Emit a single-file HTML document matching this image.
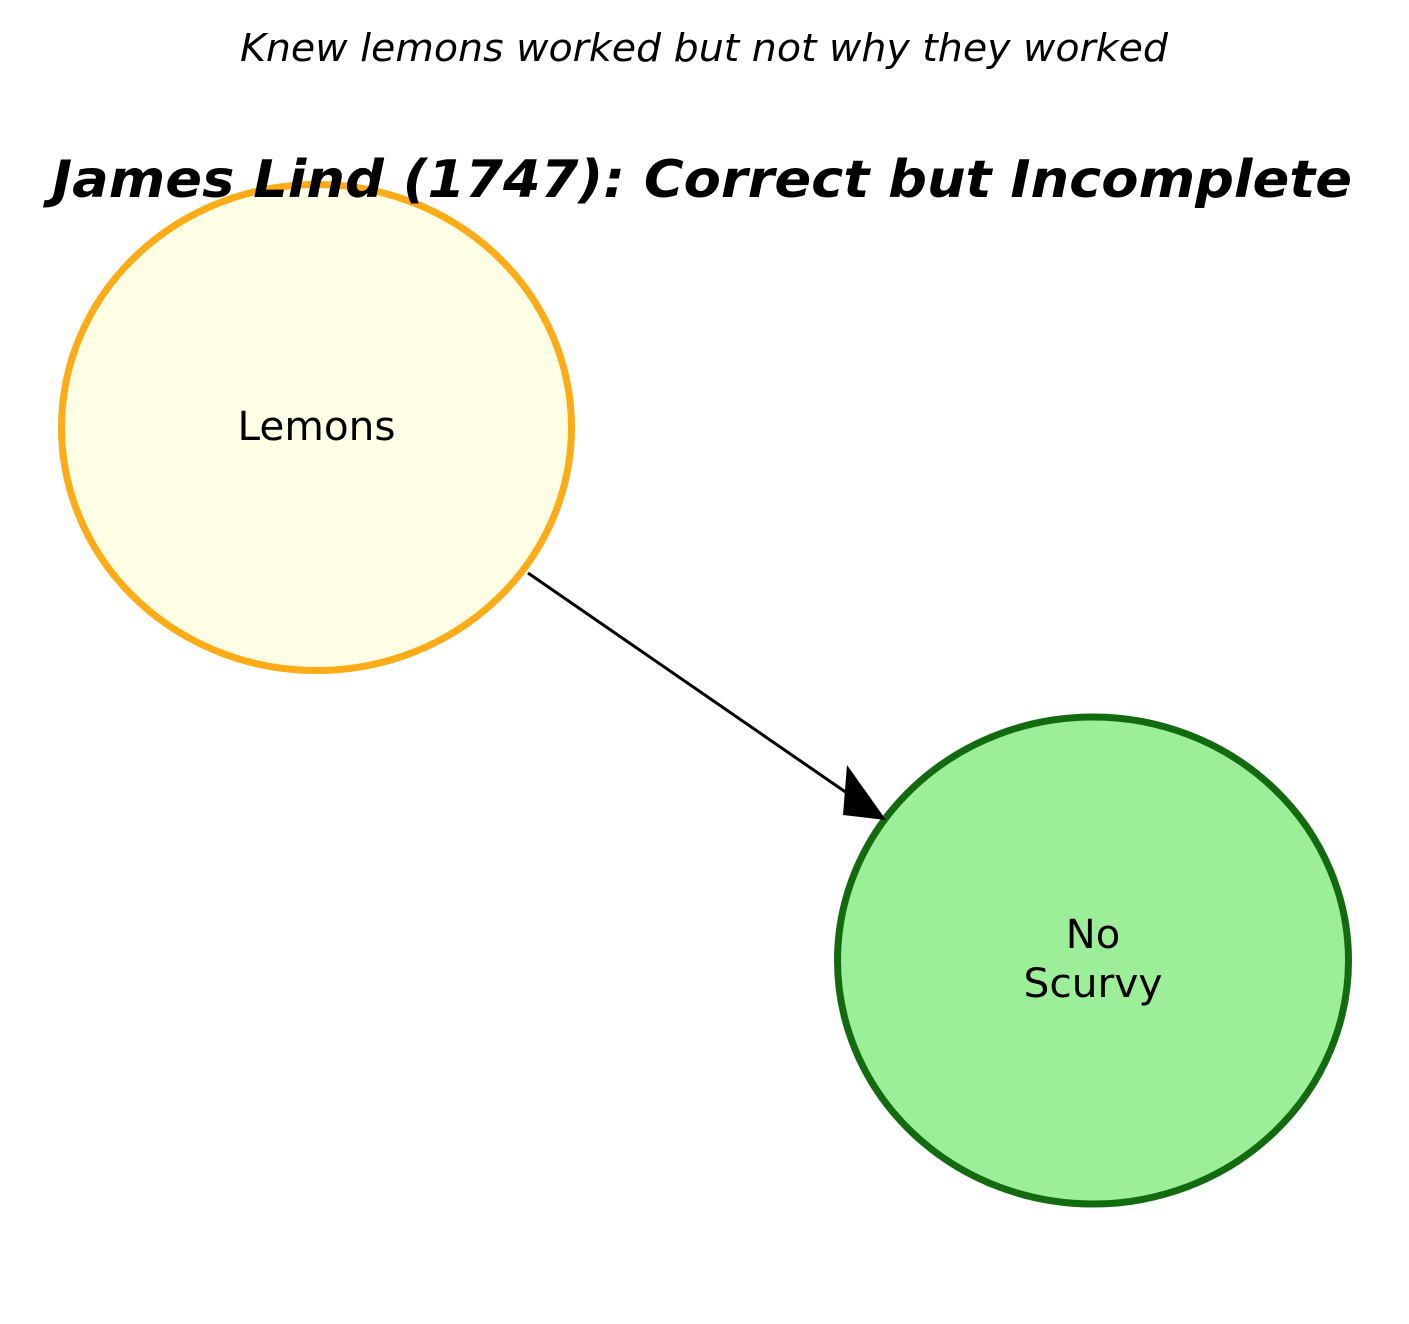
<!DOCTYPE html>
<html><head><meta charset="utf-8"><style>html,body{margin:0;padding:0;background:#fff}svg{display:block}</style></head>
<body>
<svg width="1409" height="1324" viewBox="0 0 1409 1324" xmlns="http://www.w3.org/2000/svg" font-family="DejaVu Sans, Liberation Sans, sans-serif">
<ellipse cx="316.5" cy="427.5" rx="255" ry="243" fill="#ffffe6" stroke="#fdab17" stroke-width="7"/>
<ellipse cx="1093" cy="960.5" rx="255.5" ry="243.5" fill="#9cee98" stroke="#136b10" stroke-width="7"/>
<line x1="528" y1="573" x2="860" y2="802" stroke="#000" stroke-width="3"/>
<polygon points="847,765 843,815 886,820" fill="#000"/>
<text x="704" y="61" text-anchor="middle" font-size="38" font-style="italic" textLength="928" lengthAdjust="spacingAndGlyphs">Knew lemons worked but not why they worked</text>
<text x="702" y="197" text-anchor="middle" font-size="52" font-weight="bold" font-style="italic" textLength="1300" lengthAdjust="spacingAndGlyphs">James Lind (1747): Correct but Incomplete</text>
<text x="316.5" y="440" text-anchor="middle" font-size="40" textLength="158" lengthAdjust="spacingAndGlyphs">Lemons</text>
<text x="1093" y="948" text-anchor="middle" font-size="40">No</text>
<text x="1093" y="997" text-anchor="middle" font-size="40" textLength="139" lengthAdjust="spacingAndGlyphs">Scurvy</text>
</svg>
</body></html>
